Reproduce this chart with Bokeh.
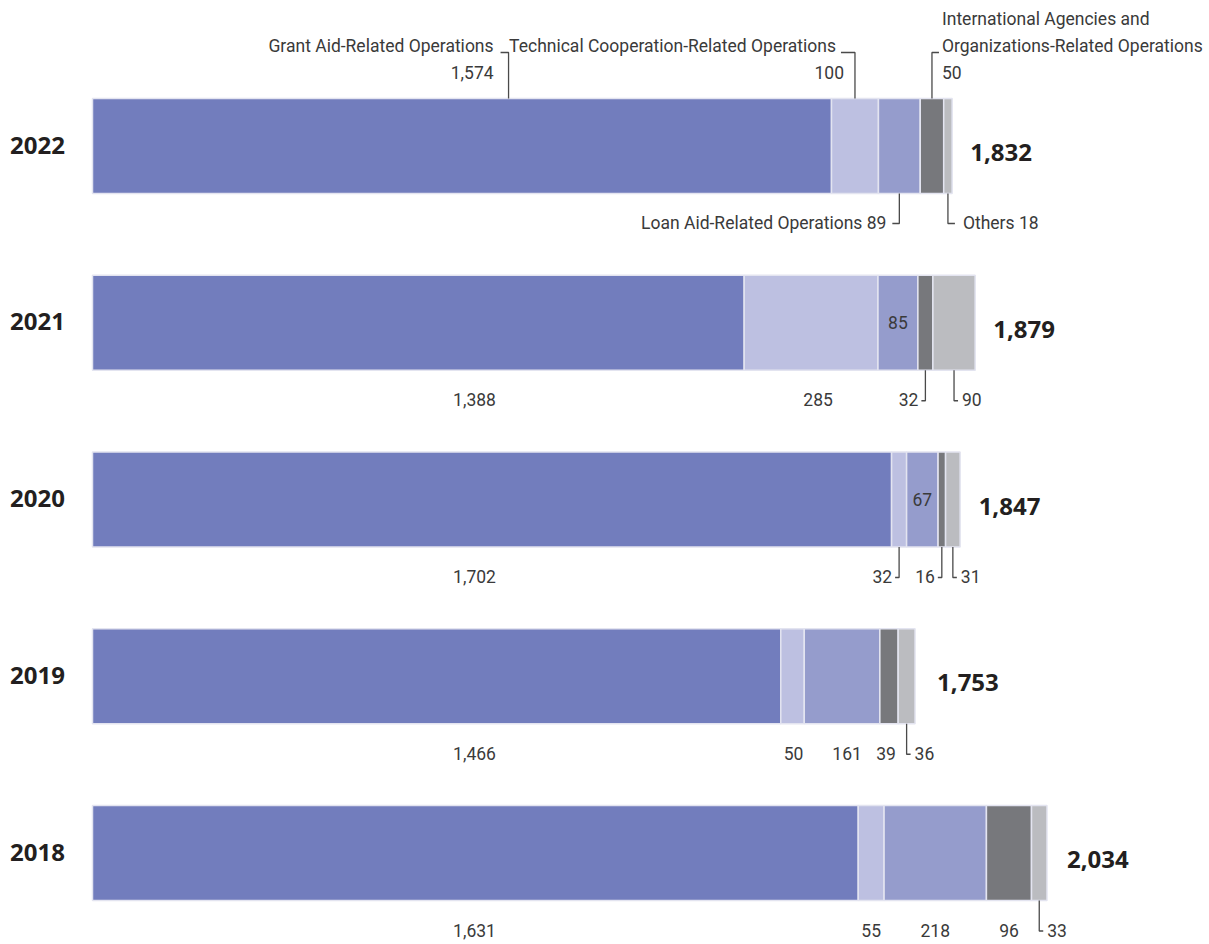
from bokeh.plotting import figure
from bokeh.models import Range1d
from bokeh.core.properties import value
from bokeh.embed import file_html
from bokeh.resources import INLINE

# ---------------- data ----------------
years = ["2022", "2021", "2020", "2019", "2018"]
categories = [
    "Grant Aid-Related Operations",
    "Technical Cooperation-Related Operations",
    "Loan Aid-Related Operations",
    "International Agencies and Organizations-Related Operations",
    "Others",
]
grant = [1574, 1388, 1702, 1466, 1631]
technical = [100, 285, 32, 50, 55]
loan = [89, 85, 67, 161, 218]
international = [50, 32, 16, 39, 96]
others = [18, 90, 31, 36, 33]
totals = [1832, 1879, 1847, 1753, 2034]

series = [grant, technical, loan, international, others]
colors = ["#727DBD", "#BDC0E1", "#959CCC", "#77787C", "#BBBCC0"]

# ---------------- layout (style) ----------------
W, H = 1205, 940
PXU = 0.4695          # screen px per data unit (x)
PYU = 176.75          # screen px per row (y)
ypos = [4, 3, 2, 1, 0]
BAR_H = 95 / PYU

def ux(px):
    return px / PXU

def uy(px):
    return px / PYU

x_start = -92 / PXU
x_end = x_start + W / PXU
y_top = 4 + 145.5 / PYU
y_start = y_top - H / PYU

FONT = value("Roboto")
FS = "17.5px"
BOLD = value("Open Sans")
TXT = "#3A3A3A"
LEAD = "#4A4A4A"

p = figure(width=W, height=H, x_range=Range1d(x_start, x_end),
           y_range=Range1d(y_start, y_top), output_backend="svg",
           toolbar_location=None, min_border=0,
           x_axis_location=None, y_axis_location=None)
p.grid.visible = False
p.outline_line_color = None
p.background_fill_color = "white"
p.border_fill_color = "white"

# ---------------- bars ----------------
lefts = [[0] * 5]
for k in range(1, 5):
    lefts.append([lefts[k - 1][i] + series[k - 1][i] for i in range(5)])
rights = [[lefts[k][i] + series[k][i] for i in range(5)] for k in range(5)]
centers = [[(lefts[k][i] + rights[k][i]) / 2 for i in range(5)] for k in range(5)]
ends = rights[4]

for k in range(5):
    p.hbar(y=ypos, left=lefts[k], right=rights[k], height=BAR_H,
           fill_color=colors[k], line_color="#E3E4F0", line_width=1.5)

# ---------------- annotations ----------------
texts = {"left": ([], [], []), "right": ([], [], []), "center": ([], [], [])}
lx, ly = [], []

def add_text(x, y, t, align):
    texts[align][0].append(x)
    texts[align][1].append(y)
    texts[align][2].append(t)

def fmt(v):
    return f"{v:,}"

# 2022 (row 0): labels with category names
i = 0
top = ypos[i] + BAR_H / 2
bot = ypos[i] - BAR_H / 2
TICK = 46
gx = 0.563 * grant[i]
lx.append([gx - ux(8), gx, gx]); ly.append([top + uy(TICK), top + uy(TICK), top])
add_text(gx - ux(15), top + uy(53), categories[0], "right")
add_text(gx - ux(15), top + uy(26), fmt(grant[i]), "right")

c = centers[1][i]
lx.append([c - ux(14), c, c]); ly.append([top + uy(TICK), top + uy(TICK), top])
add_text(c - ux(19), top + uy(53), categories[1], "right")
add_text(c - ux(11), top + uy(26), fmt(technical[i]), "right")

c = centers[3][i]
lx.append([c + ux(7), c, c]); ly.append([top + uy(TICK), top + uy(TICK), top])
add_text(c + ux(10), top + uy(80), "International Agencies and", "left")
add_text(c + ux(10), top + uy(53), "Organizations-Related Operations", "left")
add_text(c + ux(10), top + uy(26), fmt(international[i]), "left")

c = centers[2][i]
lx.append([c, c, c - ux(7)]); ly.append([bot, bot - uy(30), bot - uy(30)])
add_text(c - ux(13), bot - uy(29.5), categories[2] + " " + fmt(loan[i]), "right")

c = centers[4][i]
lx.append([c, c, c + ux(7)]); ly.append([bot, bot - uy(30), bot - uy(30)])
add_text(c + ux(15), bot - uy(29.5), categories[4] + " " + fmt(others[i]), "left")

# other years: label modes per segment
GRANT_X = ux(382)
modes = {
    1: ["fixed", ("plain", 7), "in", "L", "R"],
    2: ["fixed", "L", "in", "L", "R"],
    3: ["fixed", ("plain", 1), ("plain", 5), ("plain", -3), "R"],
    4: ["fixed", ("plain", 0), ("plain", 0), ("plain", 0), "R"],
}
for i in range(1, 5):
    bot = ypos[i] - BAR_H / 2
    for k in range(5):
        m = modes[i][k]
        v = fmt(series[k][i])
        c = centers[k][i]
        if m == "fixed":
            add_text(GRANT_X, bot - uy(29.5), v, "center")
        elif m == "in":
            add_text(c, ypos[i], v, "center")
        elif m == "L":
            lx.append([c, c, c - ux(4)]); ly.append([bot, bot - uy(30.5), bot - uy(30.5)])
            add_text(c - ux(7), bot - uy(29.5), v, "right")
        elif m == "R":
            lx.append([c, c, c + ux(4)]); ly.append([bot, bot - uy(30.5), bot - uy(30.5)])
            add_text(c + ux(8), bot - uy(29.5), v, "left")
        else:
            add_text(c + ux(m[1]), bot - uy(29.5), v, "center")

p.multi_line(xs=lx, ys=ly, line_color=LEAD, line_width=1.3)

for align, (xs, ys, ts) in texts.items():
    p.text(x=xs, y=ys, text=ts, text_align=align, text_baseline="middle",
           text_font=FONT, text_font_size=FS, text_color=TXT)

# year labels
p.text(x=[ux(-55)] * 5, y=[y + uy(1) for y in ypos], text=years,
       text_align="center", text_baseline="middle", text_font=BOLD,
       text_font_size="24px", text_font_style="bold", text_color="#231F20")

# totals
gaps = [18, 18, 18.5, 22, 20]
p.text(x=[ends[i] + ux(gaps[i]) for i in range(5)],
       y=[ypos[i] - uy(6.5) for i in range(5)],
       text=[fmt(t) for t in totals], text_align="left", text_baseline="middle",
       text_font=BOLD, text_font_size="24px", text_font_style="bold",
       text_color="#231F20")

open("out.html", "w").write(file_html(p, INLINE))
